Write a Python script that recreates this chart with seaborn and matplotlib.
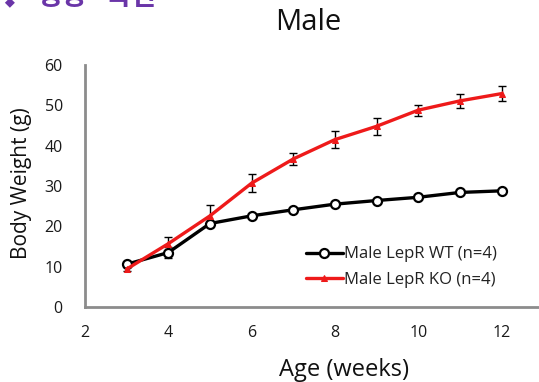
import matplotlib
matplotlib.use("Agg")
import matplotlib.pyplot as plt
import seaborn as sns
import pandas as pd
import numpy as np

weeks = [3, 4, 5, 6, 7, 8, 9, 10, 11, 12]
wt_mean = [10.6, 13.5, 20.7, 22.6, 24.1, 25.5, 26.4, 27.2, 28.4, 28.8]
wt_err = [0.4, 1.3, 0.5, 0.4, 0.4, 0.4, 0.4, 0.4, 0.4, 0.4]
ko_mean = [9.4, 15.7, 22.6, 30.7, 36.7, 41.5, 44.8, 48.8, 51.1, 52.9]
ko_err = [0.5, 1.7, 2.7, 2.2, 1.4, 2.2, 2.1, 1.4, 1.7, 1.9]
series = ["Male LepR WT (n=4)", "Male LepR KO (n=4)"]
title = "Male"
xlabel = "Age (weeks)"
ylabel = "Body Weight (g)"
header_parts = ["❖", "성장", "곡선"]
xticks = [2, 4, 6, 8, 10, 12]
yticks = [0, 10, 20, 30, 40, 50, 60]

sns.set_style("white")
plt.rcParams['font.family'] = ['Open Sans', 'Noto Sans CJK KR', 'DejaVu Sans']

df = pd.DataFrame({
    "Age": weeks * 2,
    "Weight": wt_mean + ko_mean,
    "Group": [series[0]] * len(weeks) + [series[1]] * len(weeks),
})

W, H = 539, 382
fig = plt.figure(figsize=(W / 100, H / 100), dpi=100)
ax = fig.add_axes([85 / W, 1 - 307 / H, 1 - 85 / W, (307 - 65) / H])

# error bars
ax.errorbar(weeks, wt_mean, yerr=wt_err, fmt="none", ecolor="black",
            elinewidth=1.0, capsize=3, capthick=1.0, zorder=2)
ax.errorbar(weeks, ko_mean, yerr=ko_err, fmt="none", ecolor="black",
            elinewidth=1.0, capsize=3, capthick=1.0, zorder=2)

sns.lineplot(data=df, x="Age", y="Weight", hue="Group", style="Group",
             palette={series[0]: "black", series[1]: "#ee1a1a"},
             markers={series[0]: "o", series[1]: "^"}, dashes=False,
             linewidth=2.4, markersize=6, ax=ax, zorder=3)

for ln in ax.get_lines():
    if ln.get_marker() == "o":
        ln.set_markerfacecolor("white")
        ln.set_markeredgecolor("black")
        ln.set_markeredgewidth(1.6)
        ln.set_markersize(6.5)
    elif ln.get_marker() == "^":
        ln.set_markerfacecolor("#ee1a1a")
        ln.set_markeredgecolor("#ee1a1a")
        ln.set_markersize(5)

ax.set_xlim(2, 12.9)
ax.set_ylim(0, 60)
ax.set_xticks(xticks)
ax.set_yticks(yticks)
ax.tick_params(axis="both", direction="out", length=4, width=1.5, color="#8c8c8c",
               labelsize=11.5, labelcolor="#1a1a1a")
ax.tick_params(axis="y", pad=12)
ax.tick_params(axis="x", pad=9)
for side in ["top", "right"]:
    ax.spines[side].set_visible(False)
for side in ["left", "bottom"]:
    ax.spines[side].set_color("#8c8c8c")
    ax.spines[side].set_linewidth(2.0)

ax.set_xlabel(xlabel, fontsize=17, color="#111111")
ax.set_ylabel(ylabel, fontsize=15, color="#111111")
ax.xaxis.set_label_coords((344 - 85) / (W - 85), -(370 - 307) / (307 - 65))
ax.yaxis.set_label_coords(-(85 - 22) / (W - 85), (307 - 183) / (307 - 65))
ax.xaxis.label.set_va("center")
ax.yaxis.label.set_va("center")

fig.text(308 / W, 1 - 23 / H, title, fontsize=21, ha="center", va="center", color="#111111")

# header text, clipped at the top edge as in the reference
for txt, px in zip(header_parts, [-5, 36, 106]):
    fig.text(px / W, 1 - 5 / H, txt, fontsize=20, fontweight="bold",
             color="#6a35a8", ha="left", va="baseline",
             family=['Noto Sans CJK KR', 'DejaVu Sans'])

leg = ax.legend(loc="center left", bbox_to_anchor=(306 / W, 1 - 267 / H),
                bbox_transform=fig.transFigure, frameon=False,
                fontsize=12, handlelength=2.2, handletextpad=0.1,
                labelspacing=0.55, borderpad=0, borderaxespad=0)
for h in leg.legend_handles:
    h.set_linewidth(2.4)
for t in leg.get_texts():
    t.set_color("#222222")

fig.savefig("out.png", dpi=100)
